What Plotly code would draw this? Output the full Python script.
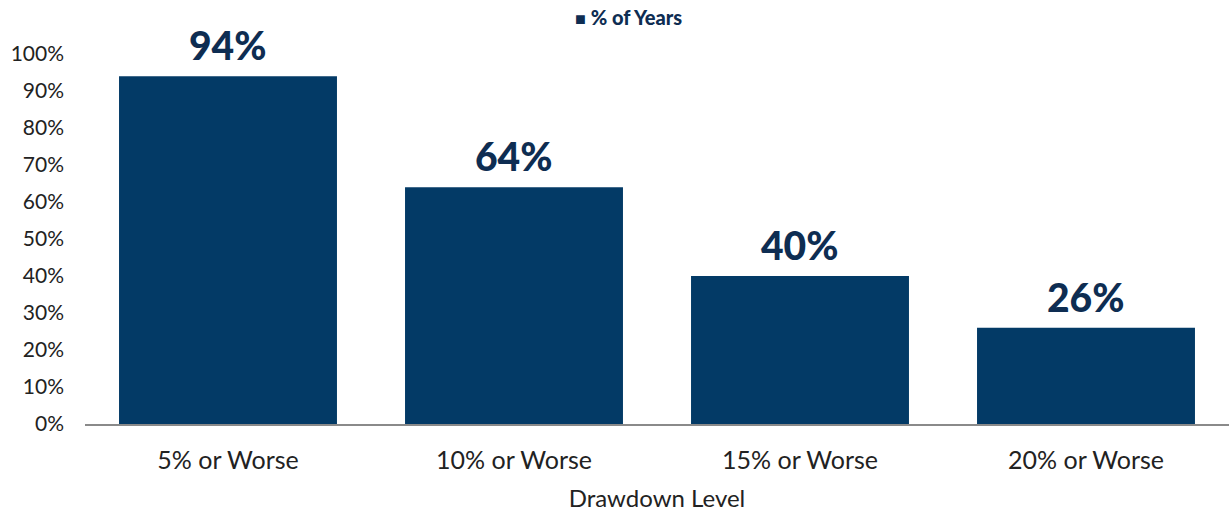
import plotly.graph_objects as go

categories = ["5% or Worse", "10% or Worse", "15% or Worse", "20% or Worse"]
pct_of_years = [0.94, 0.64, 0.40, 0.26]
value_labels = ["94%", "64%", "40%", "26%"]
y_ticks = [0, 0.1, 0.2, 0.3, 0.4, 0.5, 0.6, 0.7, 0.8, 0.9, 1.0]
y_tick_labels = ["0%", "10%", "20%", "30%", "40%", "50%", "60%", "70%", "80%", "90%", "100%"]
series_name = "% of Years"

BAR = "#033a66"
LABEL = "#0e2d52"
TXT = "#222222"

fig = go.Figure()
fig.add_trace(go.Bar(
    x=categories, y=pct_of_years, name=series_name,
    marker=dict(color=BAR, line=dict(width=0)),
    hoverinfo="skip", showlegend=False,
))

for c, v, t in zip(categories, pct_of_years, value_labels):
    fig.add_annotation(x=c, y=v, text=t, showarrow=False,
                       yanchor="bottom", yshift=6,
                       font=dict(family="Lato", size=39, color=LABEL, weight=900))

# legend-like key
fig.add_annotation(xref="paper", yref="paper", x=(628 - 85) / 1144, y=1 + (54 - 17) / 370,
                   xanchor="center", yanchor="middle", showarrow=False,
                   text=f"<span style='font-size:18px'>■</span> {series_name}",
                   font=dict(family="Lato", size=20, color=LABEL, weight=900))

fig.update_layout(
    width=1229, height=519,
    margin=dict(l=85, r=0, t=54, b=95),
    plot_bgcolor="white", paper_bgcolor="white",
    bargap=0.238,
    showlegend=False,
    font=dict(family="Lato", color=TXT),
)

fig.update_xaxes(
    showline=True, linecolor="#8a8a8a", linewidth=1.5,
    showgrid=False, ticks="", tickfont=dict(family="Lato", size=25, color=TXT),
    ticklabelstandoff=13,
    title=dict(text="Drawdown Level", font=dict(family="Lato", size=24, color=TXT), standoff=17),
)
fig.update_yaxes(
    range=[0, 1.0], tickvals=y_ticks, ticktext=y_tick_labels,
    showgrid=False, zeroline=False, showline=False, ticks="",
    tickfont=dict(family="Lato", size=21, color=TXT),
    ticklabelstandoff=20,
)

fig.write_html("out.html")
